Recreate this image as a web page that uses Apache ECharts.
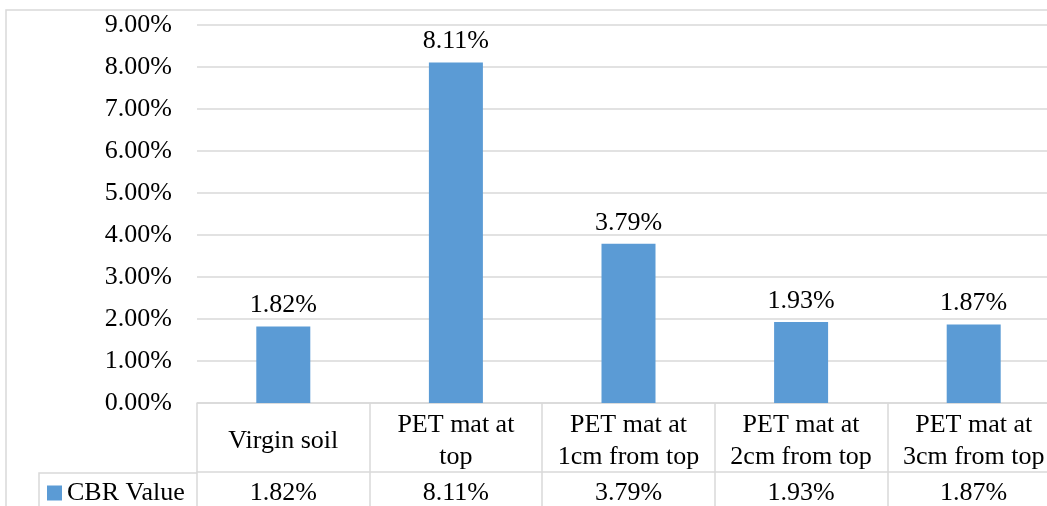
<!DOCTYPE html>
<html>
<head>
<meta charset="utf-8">
<script src="https://cdn.jsdelivr.net/npm/echarts@6/dist/echarts.min.js"></script>
<style>
  html, body { margin: 0; padding: 0; background: #fff; overflow: hidden; }
  #chart { width: 1061px; height: 506px; }
</style>
</head>
<body>
<div id="chart"></div>
<script>
// CBR test results for each placement of the PET mat
const categories = [
  'Virgin soil',
  'PET mat at\ntop',
  'PET mat at\n1cm from top',
  'PET mat at\n2cm from top',
  'PET mat at\n3cm from top'
];
const seriesName = 'CBR Value';
const cbrValues = [1.82, 8.11, 3.79, 1.93, 1.87];
const yTicks = { min: 0, max: 9, interval: 1 };

const pct = v => v.toFixed(2) + '%';
const FONT = 'Liberation Serif';
const GRID_COLOR = '#D9D9D9';
const BAR_COLOR = '#5B9BD5';

const chart = echarts.init(document.getElementById('chart'), null, { renderer: 'canvas' });

chart.setOption({
  backgroundColor: '#fff',
  animation: false,
  textStyle: { fontFamily: FONT, color: '#000' },
  grid: { left: 197, top: 25, right: 1, height: 379, containLabel: false },
  legend: {
    data: [seriesName],
    left: 47, top: 480,
    icon: 'rect', itemWidth: 15, itemHeight: 15, itemGap: 6,
    padding: 0,
    textStyle: { fontFamily: FONT, fontSize: 26, color: '#000' }
  },
  xAxis: [
    {
      type: 'category',
      data: categories,
      position: 'bottom',
      axisLine: { show: true, lineStyle: { color: GRID_COLOR, width: 1.5 } },
      axisTick: { show: true, length: 69, lineStyle: { color: GRID_COLOR, width: 1.5 } },
      axisLabel: {
        fontFamily: FONT, fontSize: 26, color: '#000',
        lineHeight: 32, margin: 38, verticalAlign: 'middle', interval: 0
      }
    },
    {
      type: 'category',
      data: categories,
      position: 'bottom',
      offset: 69,
      axisLine: { show: true, lineStyle: { color: GRID_COLOR, width: 1.5 } },
      axisTick: { show: true, length: 60, lineStyle: { color: GRID_COLOR, width: 1.5 } },
      axisLabel: {
        fontFamily: FONT, fontSize: 26, color: '#000',
        margin: 21, verticalAlign: 'middle', interval: 0,
        formatter: (val, idx) => pct(cbrValues[idx])
      }
    }
  ],
  yAxis: {
    type: 'value',
    min: yTicks.min, max: yTicks.max, interval: yTicks.interval,
    axisLine: { show: false },
    axisTick: { show: false },
    splitLine: { show: true, lineStyle: { color: GRID_COLOR, width: 1.5 } },
    axisLabel: {
      fontFamily: FONT, fontSize: 26, color: '#000', margin: 25,
      formatter: v => pct(v)
    }
  },
  series: [{
    name: seriesName,
    type: 'bar',
    data: cbrValues,
    barWidth: 54,
    itemStyle: { color: BAR_COLOR },
    label: {
      show: true, position: 'top', distance: 8,
      fontFamily: FONT, fontSize: 26, color: '#000',
      formatter: p => pct(p.value)
    }
  }],
  graphic: [
    // outer chart frame
    { type: 'rect', silent: true, z: -1,
      shape: { x: 6, y: 10, width: 1100, height: 600 },
      style: { fill: null, stroke: GRID_COLOR, lineWidth: 1.5 } },
    // legend cell of the data table
    { type: 'polyline', silent: true,
      shape: { points: [[39, 520], [39, 473], [197, 473]] },
      style: { fill: null, stroke: GRID_COLOR, lineWidth: 1.5 } }
  ]
});
</script>
</body>
</html>
